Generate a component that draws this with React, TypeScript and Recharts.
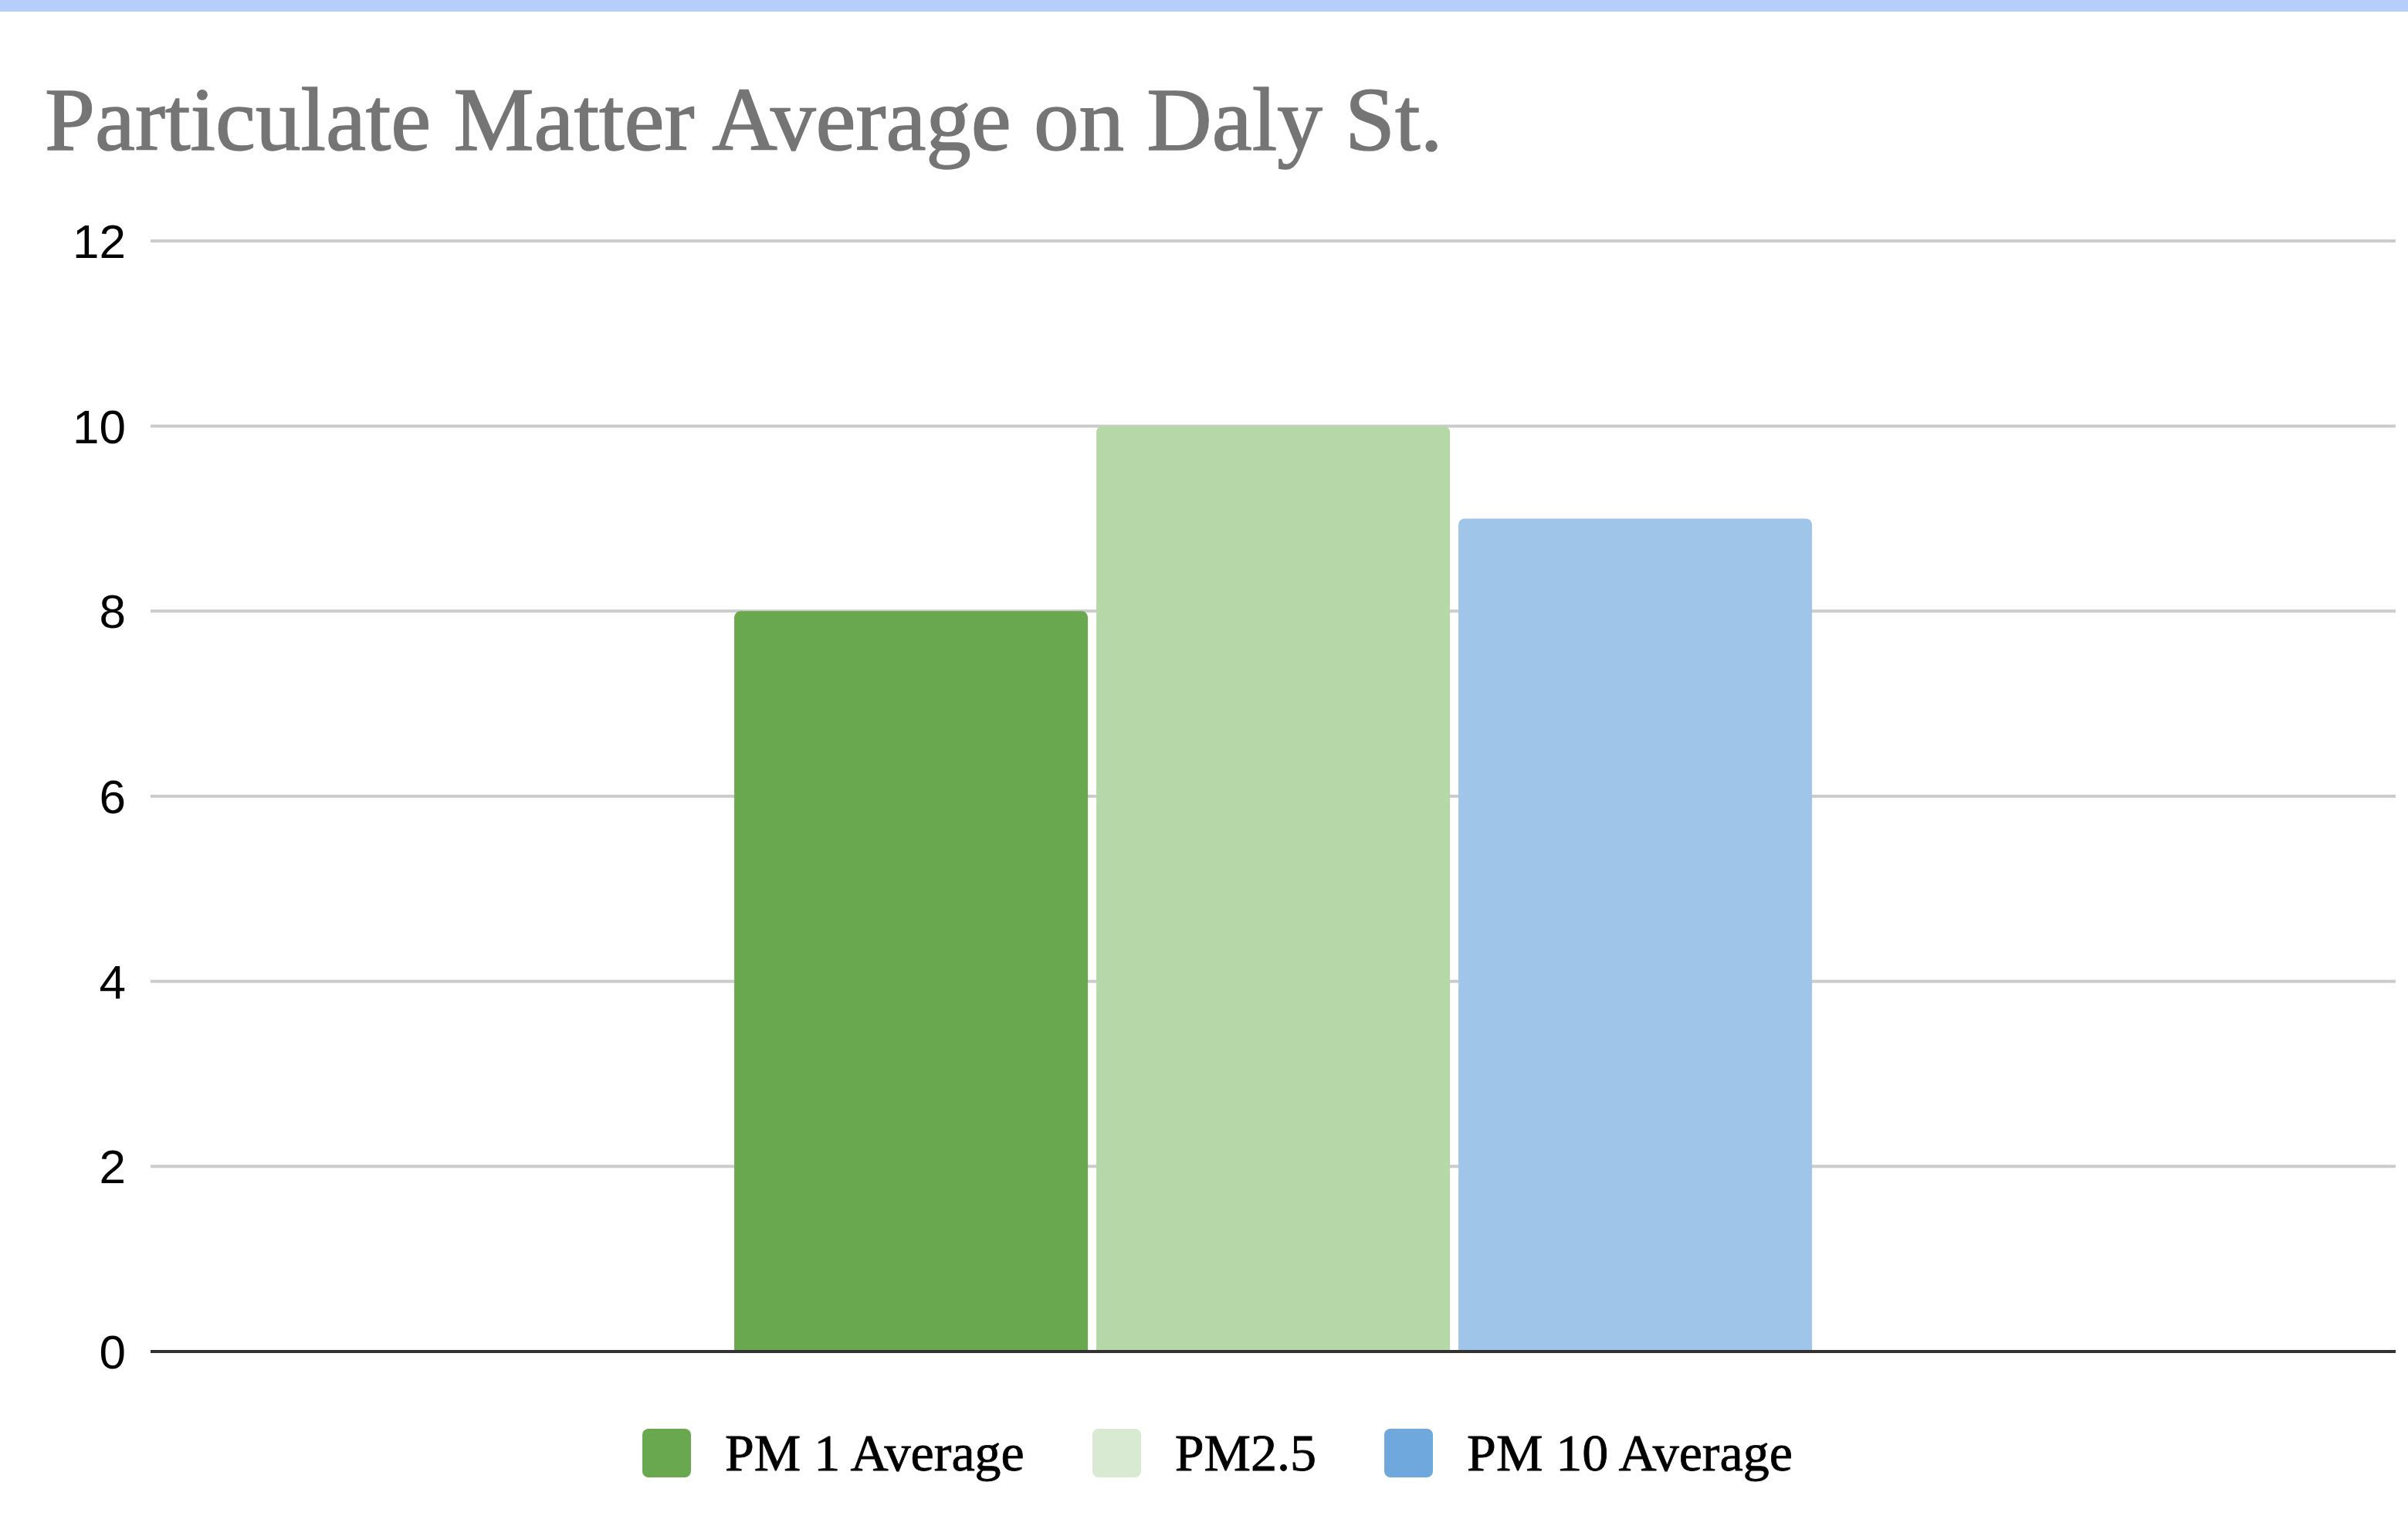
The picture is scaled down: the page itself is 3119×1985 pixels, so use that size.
import React from 'react'
import { BarChart, Bar, XAxis, YAxis, CartesianGrid, ReferenceLine } from 'recharts'

const categories = ['Daly St.']
const seriesKeys = ['pm1', 'pm25', 'pm10']
const seriesNames = ['PM 1 Average', 'PM2.5', 'PM 10 Average']
const pm1Values = [8]
const pm25Values = [10]
const pm10Values = [9]
const barColors = ['#6aa84f', '#b6d7a8', '#9fc5e8']
const legendColors = ['#6aa84f', '#d9ead3', '#6fa8dc']
const yTicks = [0, 2, 4, 6, 8, 10, 12]

const data = categories.map((name, i) => ({
    name,
    pm1: pm1Values[i],
    pm25: pm25Values[i],
    pm10: pm10Values[i],
}))

const serif = '"Liberation Serif", "Times New Roman", serif'
const sans = '"Liberation Sans", Arial, sans-serif'

export default function App() {
    return (
        <div style={{ position: 'absolute', left: 0, top: 0, width: 3119, height: 1985, background: '#fff', overflow: 'hidden' }}>
            <div style={{ position: 'absolute', left: 0, top: 0, width: 3119, height: 15, background: '#b6cffa' }} />
            <div
                style={{
                    position: 'absolute',
                    left: 58,
                    top: 96,
                    fontFamily: serif,
                    fontSize: 117,
                    lineHeight: '117px',
                    color: '#757575',
                    WebkitTextStroke: '1.5px #757575',
                    whiteSpace: 'nowrap',
                }}
            >
                Particulate Matter Average on Daly St.
            </div>
            <div style={{ position: 'absolute', left: 0, top: 0 }}>
                <BarChart
                    width={3119}
                    height={1985}
                    data={data}
                    margin={{ top: 312, right: 16, bottom: 235, left: 4 }}
                    barCategoryGap="26%"
                    barGap={11}
                >
                    <CartesianGrid vertical={false} stroke="#cccccc" strokeWidth={4} />
                    <XAxis dataKey="name" tick={false} tickLine={false} axisLine={false} height={0} />
                    <YAxis
                        domain={[0, 12]}
                        ticks={yTicks}
                        width={191}
                        axisLine={false}
                        tickLine={false}
                        tickSize={0}
                        tickMargin={32}
                        tick={{ fill: '#000', fontSize: 62, fontFamily: sans }}
                    />
                    {seriesKeys.map((key, i) => (
                        <Bar
                            key={key}
                            dataKey={key}
                            name={seriesNames[i]}
                            fill={barColors[i]}
                            radius={[8, 8, 0, 0]}
                            isAnimationActive={false}
                        />
                    ))}
                    {/* baseline drawn dark over the 0 grid line */}
                    <ReferenceLine y={0} stroke="#333333" strokeWidth={4} />
                </BarChart>
            </div>
            <div
                style={{
                    position: 'absolute',
                    left: 832,
                    top: 1850,
                    display: 'flex',
                    alignItems: 'center',
                    height: 63,
                    fontFamily: serif,
                    fontSize: 68,
                    color: '#000',
                    WebkitTextStroke: '0.8px #000',
                    whiteSpace: 'nowrap',
                }}
            >
                {seriesNames.map((name, i) => (
                    <div key={name} style={{ display: 'flex', alignItems: 'center', marginRight: 88 }}>
                        <div style={{ width: 63, height: 63, borderRadius: 8, background: legendColors[i], marginRight: 44 }} />
                        <span>{name}</span>
                    </div>
                ))}
            </div>
        </div>
    )
}
